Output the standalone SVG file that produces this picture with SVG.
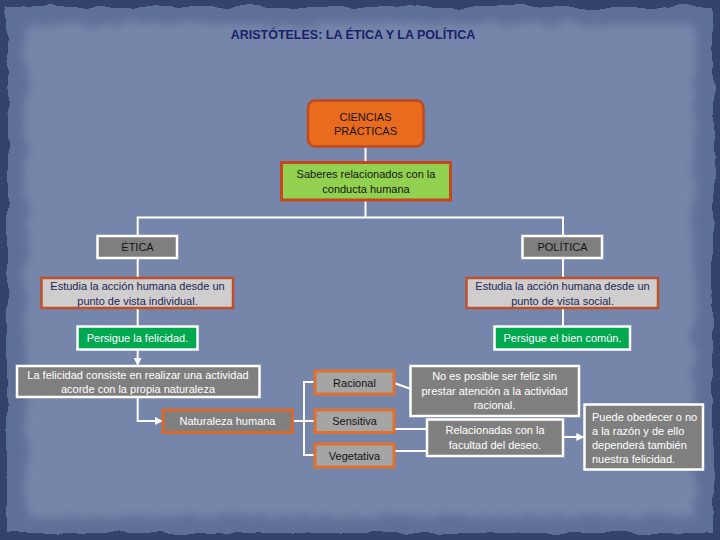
<svg xmlns="http://www.w3.org/2000/svg" width="720" height="540" viewBox="0 0 720 540">
<defs>
<style>
text{font-family:"Liberation Sans",Arial,sans-serif;font-size:11px;text-anchor:middle;dominant-baseline:central}
.w{fill:#ffffff}
.d{fill:#141414}
.n{fill:#1c2552}
.grey{fill:#7f7f7f;stroke:#ffffff;stroke-width:2.5}
.lite{fill:#cfcdcd;stroke:#c0502a;stroke-width:2.5}
.green{fill:#00a84f;stroke:#ffffff;stroke-width:2.5}
.sub{fill:#a5a5a5;stroke:#e0702c;stroke-width:3}
.nat{fill:#7f7f7f;stroke:#d9692c;stroke-width:3}
.con{fill:none;stroke:#ffffff;stroke-width:2}
</style>
<filter id="rough" x="-5%" y="-5%" width="110%" height="110%">
<feTurbulence type="fractalNoise" baseFrequency="0.03" numOctaves="3" seed="4" result="t"/>
<feDisplacementMap in="SourceGraphic" in2="t" scale="10" xChannelSelector="R" yChannelSelector="G"/>
</filter>
<filter id="soft" x="-5%" y="-5%" width="110%" height="110%">
<feTurbulence type="fractalNoise" baseFrequency="0.05" numOctaves="3" seed="9" result="t"/>
<feDisplacementMap in="SourceGraphic" in2="t" scale="14" xChannelSelector="R" yChannelSelector="G" result="d"/>
<feGaussianBlur in="d" stdDeviation="4"/>
</filter>
<marker id="ah" viewBox="0 0 10 10" refX="9" refY="5" markerWidth="4" markerHeight="4" orient="auto" markerUnits="strokeWidth">
<path d="M0,0 L10,5 L0,10 z" fill="#ffffff"/>
</marker>
</defs>
<g id="background">
<rect x="0" y="0" width="720" height="540" fill="#34436c"/>
<rect x="7" y="7" width="706" height="526" fill="#5e6f98" filter="url(#rough)"/>
<rect x="26" y="24" width="668" height="492" fill="#7686aa" filter="url(#soft)"/>
</g>
<g id="title">
<text x="353" y="35" style="font-size:12.5px;font-weight:bold;fill:#1a1f6a">ARISTÓTELES: LA ÉTICA Y LA POLÍTICA</text>
</g>
<g id="connectors">
<line class="con" x1="365.5" y1="147" x2="365.5" y2="162"/>
<polyline class="con" points="365.5,200 365.5,217.5"/>
<polyline class="con" points="137.7,236 137.7,217.5 563,217.5 563,236"/>
<line class="con" x1="137.7" y1="258" x2="137.7" y2="278"/>
<line class="con" x1="137.7" y1="308" x2="137.7" y2="326.5"/>
<line class="con" x1="563" y1="258" x2="563" y2="278"/>
<line class="con" x1="563" y1="308" x2="563" y2="326.5"/>
<line class="con" x1="137.7" y1="349.5" x2="137.7" y2="365" marker-end="url(#ah)"/>
<polyline class="con" points="137.7,397 137.7,421 162,421" marker-end="url(#ah)"/>
<line class="con" x1="292.5" y1="421" x2="304" y2="421"/>
<polyline class="con" points="315,382 304,382 304,455 315,455"/>
<line class="con" x1="304" y1="421" x2="315" y2="421"/>
<line class="con" x1="394" y1="383" x2="411" y2="389"/>
<line class="con" x1="394" y1="429" x2="427" y2="429"/>
<line class="con" x1="394" y1="451" x2="427" y2="451"/>
<line class="con" x1="563" y1="437" x2="583.5" y2="437" marker-end="url(#ah)"/>
</g>
<g id="ciencias">
<rect x="308" y="100.5" width="115.5" height="46" rx="7" fill="#e96b1d" stroke="#c04a1c" stroke-width="2.5"/>
<text class="d" x="365.5" y="116.5">CIENCIAS</text>
<text class="d" x="365.5" y="131">PRÁCTICAS</text>
</g>
<g id="saberes">
<rect x="281.5" y="162.5" width="169" height="37.5" fill="#92d050" stroke="#c4471d" stroke-width="3"/>
<text class="d" x="366" y="174">Saberes relacionados con la</text>
<text class="d" x="366" y="189">conducta humana</text>
</g>
<g id="etica">
<rect class="grey" x="97.5" y="236" width="79.5" height="22"/>
<text class="d" x="137.5" y="247">ÉTICA</text>
</g>
<g id="politica">
<rect class="grey" x="522.5" y="236" width="79.5" height="22"/>
<text class="d" x="562.5" y="247">POLÍTICA</text>
</g>
<g id="estudia-individual">
<rect class="lite" x="41.5" y="278" width="191.5" height="30"/>
<text class="n" x="137.5" y="286">Estudia la acción humana desde un</text>
<text class="n" x="137.5" y="301">punto de vista individual.</text>
</g>
<g id="estudia-social">
<rect class="lite" x="466.5" y="278" width="191.5" height="30"/>
<text class="n" x="562.5" y="286">Estudia la acción humana desde un</text>
<text class="n" x="562.5" y="301">punto de vista social.</text>
</g>
<g id="persigue-felicidad">
<rect class="green" x="77.5" y="326.5" width="120" height="23"/>
<text class="w" x="137.5" y="338">Persigue la felicidad.</text>
</g>
<g id="persigue-bien">
<rect class="green" x="494.5" y="326.5" width="135.5" height="23"/>
<text class="w" x="562.5" y="338">Persigue el bien común.</text>
</g>
<g id="felicidad-consiste">
<rect class="grey" x="17" y="366" width="242.5" height="31"/>
<text class="w" x="138" y="375">La felicidad consiste en realizar una actividad</text>
<text class="w" x="138" y="389">acorde con la propia naturaleza</text>
</g>
<g id="naturaleza">
<rect class="nat" x="163" y="410" width="129.5" height="22.5"/>
<text class="w" x="227.5" y="421">Naturaleza humana</text>
</g>
<g id="racional">
<rect class="sub" x="315" y="371" width="79" height="23"/>
<text class="d" x="354.5" y="382.5">Racional</text>
</g>
<g id="sensitiva">
<rect class="sub" x="315" y="410" width="79" height="22.5"/>
<text class="d" x="354.5" y="421">Sensitiva</text>
</g>
<g id="vegetativa">
<rect class="sub" x="315" y="444" width="79" height="23"/>
<text class="d" x="354.5" y="455.5">Vegetativa</text>
</g>
<g id="no-es-posible">
<rect class="grey" x="410.5" y="366" width="168.5" height="50"/>
<text class="w" x="494.5" y="376">No es posible ser feliz sin</text>
<text class="w" x="494.5" y="391">prestar atención a la actividad</text>
<text class="w" x="494.5" y="405">racional.</text>
</g>
<g id="relacionadas">
<rect class="grey" x="427" y="419.5" width="136" height="36.5"/>
<text class="w" x="495" y="430">Relacionadas con la</text>
<text class="w" x="495" y="445">facultad del deseo.</text>
</g>
<g id="puede-obedecer">
<rect class="grey" x="584.5" y="404.5" width="118.5" height="65"/>
<text class="w" x="592" y="416.5" style="text-anchor:start">Puede obedecer o no</text>
<text class="w" x="592" y="430.5" style="text-anchor:start">a la razón y de ello</text>
<text class="w" x="592" y="445" style="text-anchor:start">dependerá también</text>
<text class="w" x="592" y="459" style="text-anchor:start">nuestra felicidad.</text>
</g>
</svg>
